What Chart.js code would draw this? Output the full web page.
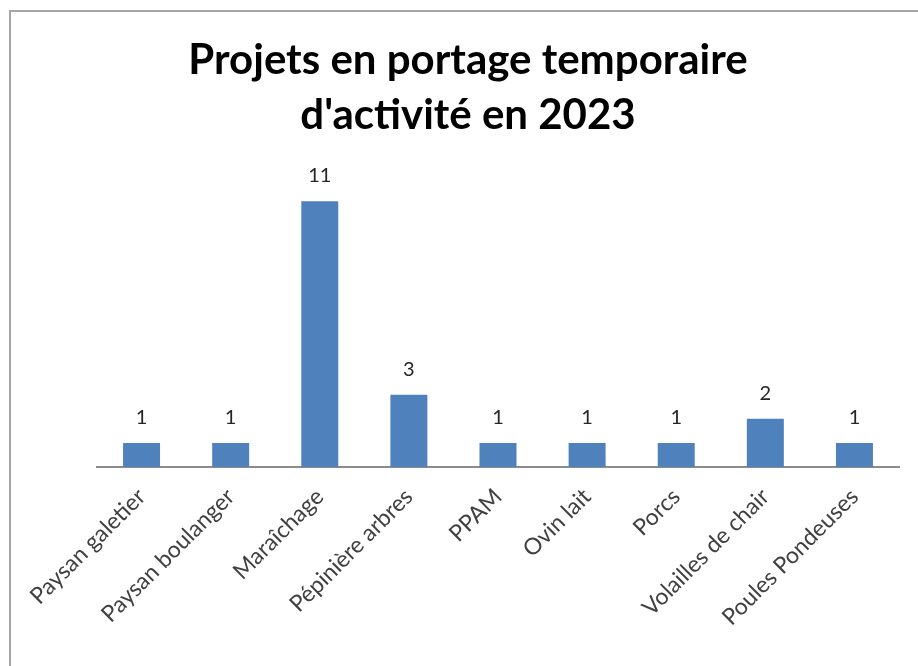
<!DOCTYPE html>
<html>
<head>
<meta charset="utf-8">
<script src="https://cdn.jsdelivr.net/npm/chart.js@4.4.0/dist/chart.umd.min.js"></script>
<style>
  html, body { margin: 0; padding: 0; background: #fff; }
  #wrap { position: relative; width: 918px; height: 666px; }
  #frame {
    position: absolute; left: 9px; top: 10px; width: 940px; height: 700px;
    border-left: 2px solid #a6a6a6; border-top: 2px solid #a6a6a6;
    pointer-events: none;
  }
</style>
</head>
<body>
<div id="wrap">
  <canvas id="chart" width="918" height="666"></canvas>
  <div id="frame"></div>
</div>
<script>
const categories = [
  "Paysan galetier", "Paysan boulanger", "Maraîchage", "Pépinière arbres",
  "PPAM", "Ovin lait", "Porcs", "Volailles de chair", "Poules Pondeuses"
];
const projects = [1, 1, 11, 3, 1, 1, 1, 2, 1];
const titleLines = ["Projets en portage temporaire", "d'activité en 2023"];

// value labels above each bar
const barLabels = {
  id: "barLabels",
  afterDatasetsDraw(chart) {
    const ctx = chart.ctx;
    const meta = chart.getDatasetMeta(0);
    ctx.save();
    ctx.font = "20px Lato";
    ctx.fillStyle = "#262626";
    ctx.textAlign = "center";
    ctx.textBaseline = "alphabetic";
    meta.data.forEach((bar, i) => {
      ctx.fillText(projects[i], bar.x, bar.y - 19);
    });
    ctx.restore();
  }
};

const ctx = document.getElementById("chart").getContext("2d");
new Chart(ctx, {
  type: "bar",
  data: {
    labels: categories,
    datasets: [
      {
        label: "Projets",
        data: projects,
        backgroundColor: "#4f81bd",
        borderWidth: 0,
        barPercentage: 0.415,
        categoryPercentage: 1,
      },
    ],
  },
  options: {
    responsive: false,
    animation: false,
    layout: { padding: { top: 33, left: 37, right: 19, bottom: 27 } },
    plugins: {
      legend: { display: false },
      tooltip: { enabled: false },
      title: {
        display: true,
        text: titleLines,
        color: "#000",
        font: { family: "Lato", size: 42, weight: "bold", lineHeight: 1.31 },
        padding: { top: 0, bottom: 34 },
      },
    },
    scales: {
      x: {
        grid: { display: false },
        border: { display: true, color: "#8c8c8c", width: 2 },
        ticks: {
          color: "#404040",
          font: { family: "Lato", size: 23 },
          minRotation: 45,
          maxRotation: 45,
          autoSkip: false,
          padding: 8,
        },
      },
      y: {
        display: true,
        min: 0,
        max: 12,
        grid: { display: false },
        border: { display: false },
        ticks: { display: false },
        afterFit: (scale) => { scale.width = 60; },
      },
    },
  },
  plugins: [barLabels],
});
</script>
</body>
</html>
